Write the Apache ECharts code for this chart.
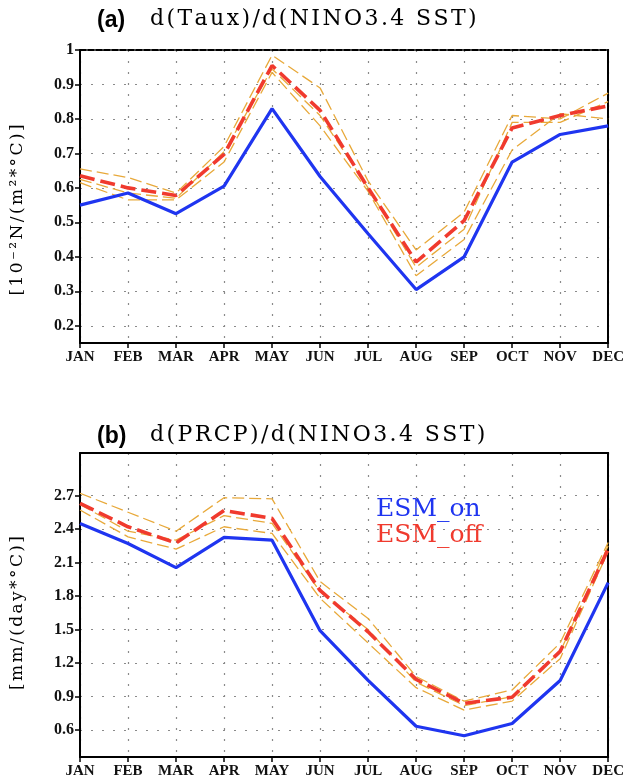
<!DOCTYPE html>
<html>
<head>
<meta charset="utf-8">
<script src="https://cdn.jsdelivr.net/npm/echarts@6/dist/echarts.min.js"></script>
<style>
  html, body { margin: 0; padding: 0; background: #ffffff; }
  #chart { width: 627px; height: 779px; }
</style>
</head>
<body>
<div id="chart"></div>
<script>
// Calendar months on the x axis
const months = ['JAN', 'FEB', 'MAR', 'APR', 'MAY', 'JUN', 'JUL', 'AUG', 'SEP', 'OCT', 'NOV', 'DEC'];

// (a) zonal wind stress response to NINO3.4 SST
const tauxOn  = [0.55, 0.585, 0.525, 0.605, 0.83, 0.633, 0.467, 0.305, 0.40, 0.675, 0.755, 0.78];
const tauxOff = [0.635, 0.60, 0.578, 0.697, 0.955, 0.825, 0.60, 0.385, 0.505, 0.774, 0.81, 0.838];
const tauxMember1 = [0.655, 0.63, 0.585, 0.72, 0.985, 0.89, 0.62, 0.42, 0.53, 0.81, 0.80, 0.875];
const tauxMember2 = [0.625, 0.585, 0.57, 0.705, 0.945, 0.81, 0.60, 0.37, 0.48, 0.79, 0.79, 0.85];
const tauxMember3 = [0.615, 0.565, 0.565, 0.675, 0.935, 0.78, 0.59, 0.345, 0.45, 0.71, 0.815, 0.80];
const tauxTicks = [0.2, 0.3, 0.4, 0.5, 0.6, 0.7, 0.8, 0.9, 1.0];

// (b) precipitation response to NINO3.4 SST
const prcpOn  = [2.45, 2.27, 2.055, 2.325, 2.30, 1.49, 1.045, 0.635, 0.55, 0.66, 1.045, 1.92];
const prcpOff = [2.63, 2.42, 2.275, 2.565, 2.495, 1.85, 1.48, 1.055, 0.84, 0.895, 1.305, 2.22];
const prcpMember1 = [2.72, 2.55, 2.38, 2.68, 2.67, 1.93, 1.60, 1.08, 0.86, 0.96, 1.38, 2.28];
const prcpMember2 = [2.62, 2.38, 2.30, 2.52, 2.45, 1.84, 1.50, 1.03, 0.82, 0.90, 1.30, 2.25];
const prcpMember3 = [2.57, 2.33, 2.22, 2.42, 2.36, 1.78, 1.38, 0.98, 0.78, 0.86, 1.24, 2.20];
const prcpTicks = [0.6, 0.9, 1.2, 1.5, 1.8, 2.1, 2.4, 2.7];

// Text strings
const titleA = 'd(Taux)/d(NINO3.4 SST)';
const titleB = 'd(PRCP)/d(NINO3.4 SST)';
const unitA = '[10\u207B\u00B2N/(m\u00B2*\u00B0C)]';
const unitB = '[mm/(day*\u00B0C)]';

// Letter-spaced text: each character becomes a rich token with side padding
function spaced(str) {
  return str.split('').map(ch => '{c|' + ch + '}').join('');
}

const xFont = { fontFamily: 'Liberation Serif', fontWeight: 'bold', fontSize: 15, color: '#111' };
const yFont = { fontFamily: 'Liberation Serif', fontWeight: 'bold', fontSize: 16, color: '#111' };
const dotted = { color: '#8a8a8a', width: 1.2, type: [2, 9] };
const fmt = v => String(+(+v).toFixed(2));

function bottomX(grid) {
  return {
    type: 'category', gridIndex: grid, data: months, boundaryGap: false,
    axisLine: { lineStyle: { color: '#000', width: 2 } },
    axisTick: { show: true, length: 5, alignWithLabel: true, lineStyle: { color: '#000', width: 1.5 } },
    axisLabel: Object.assign({ margin: 7, interval: 0 }, xFont),
    splitLine: { show: true, lineStyle: dotted }
  };
}
function topX(grid, dashed) {
  return {
    type: 'category', gridIndex: grid, data: months, boundaryGap: false, position: 'top',
    axisLine: { lineStyle: { color: '#000', width: 2, type: dashed ? [6, 2] : 'solid' } },
    axisTick: { show: false }, axisLabel: { show: false }, splitLine: { show: false }
  };
}
function leftY(grid, min, max, ticks) {
  return {
    type: 'value', gridIndex: grid, min: min, max: max,
    axisLine: { show: true, lineStyle: { color: '#000', width: 2 } },
    axisTick: { show: true, length: 5, customValues: ticks, lineStyle: { color: '#000', width: 1.5 } },
    axisLabel: Object.assign({ customValues: ticks, formatter: fmt, margin: 6 }, yFont),
    splitLine: { show: true, lineStyle: dotted }
  };
}
function rightY(grid, min, max) {
  return {
    type: 'value', gridIndex: grid, min: min, max: max, position: 'right',
    axisLine: { show: true, lineStyle: { color: '#000', width: 2 } },
    axisTick: { show: false }, axisLabel: { show: false }, splitLine: { show: false }
  };
}
function line(name, data, xi, yi, style, z) {
  return {
    name: name, type: 'line', data: data, xAxisIndex: xi, yAxisIndex: yi,
    symbol: 'none', silent: true, z: z, lineStyle: style
  };
}

const memberStyle = { color: '#e8a93a', width: 1.3, type: [12, 5] };
const onStyle = { color: '#1f35f0', width: 3.2 };
const offStyle = { color: '#f03a2e', width: 3.6, type: [15, 6] };

const titleRich = {
  c: { padding: [0, 1.2, 0, 1.2], fontFamily: 'DejaVu Serif', fontSize: 22, color: '#000' }
};
const unitRich = {
  c: { padding: [0, 1.2, 0, 1.2], fontFamily: 'DejaVu Serif', fontSize: 17, color: '#111' }
};

const chart = echarts.init(document.getElementById('chart'), null, { renderer: 'canvas' });
chart.setOption({
  backgroundColor: '#ffffff',
  animation: false,
  grid: [
    { left: 80, right: 17, top: 50, height: 293 },
    { left: 80, right: 17, top: 453, height: 310 }
  ],
  xAxis: [bottomX(0), topX(0, true), bottomX(1), topX(1, false)],
  yAxis: [
    leftY(0, 0.15, 1.0, tauxTicks),
    rightY(0, 0.15, 1.0),
    leftY(1, 0.36, 3.08, prcpTicks),
    rightY(1, 0.36, 3.08)
  ],
  series: [
    line('member1', tauxMember1, 0, 0, memberStyle, 2),
    line('member2', tauxMember2, 0, 0, memberStyle, 2),
    line('member3', tauxMember3, 0, 0, memberStyle, 2),
    line('ESM_off', tauxOff, 0, 0, offStyle, 3),
    line('ESM_on', tauxOn, 0, 0, onStyle, 4),
    line('member1', prcpMember1, 2, 2, memberStyle, 2),
    line('member2', prcpMember2, 2, 2, memberStyle, 2),
    line('member3', prcpMember3, 2, 2, memberStyle, 2),
    line('ESM_off', prcpOff, 2, 2, offStyle, 3),
    line('ESM_on', prcpOn, 2, 2, onStyle, 4)
  ],
  graphic: [
    { type: 'text', left: 97, top: 9, style: { text: '(a)', font: 'bold 23px "Liberation Sans"', fill: '#000' } },
    { type: 'text', left: 150, top: 8, style: { text: spaced(titleA), rich: titleRich } },
    { type: 'text', left: 97, top: 425, style: { text: '(b)', font: 'bold 23px "Liberation Sans"', fill: '#000' } },
    { type: 'text', left: 150, top: 424, style: { text: spaced(titleB), rich: titleRich } },
    { type: 'text', x: 18, y: 210, rotation: Math.PI / 2,
      style: { text: spaced(unitA), rich: unitRich, align: 'center', verticalAlign: 'middle' } },
    { type: 'text', x: 18, y: 613, rotation: Math.PI / 2,
      style: { text: spaced(unitB), rich: unitRich, align: 'center', verticalAlign: 'middle' } },
    { type: 'text', left: 376, top: 497, style: { text: 'ESM_on', font: '25px "DejaVu Serif"', fill: '#1f35f0' } },
    { type: 'text', left: 376, top: 523, style: { text: 'ESM_off', font: '25px "DejaVu Serif"', fill: '#f03a2e' } }
  ]
});
</script>
</body>
</html>
